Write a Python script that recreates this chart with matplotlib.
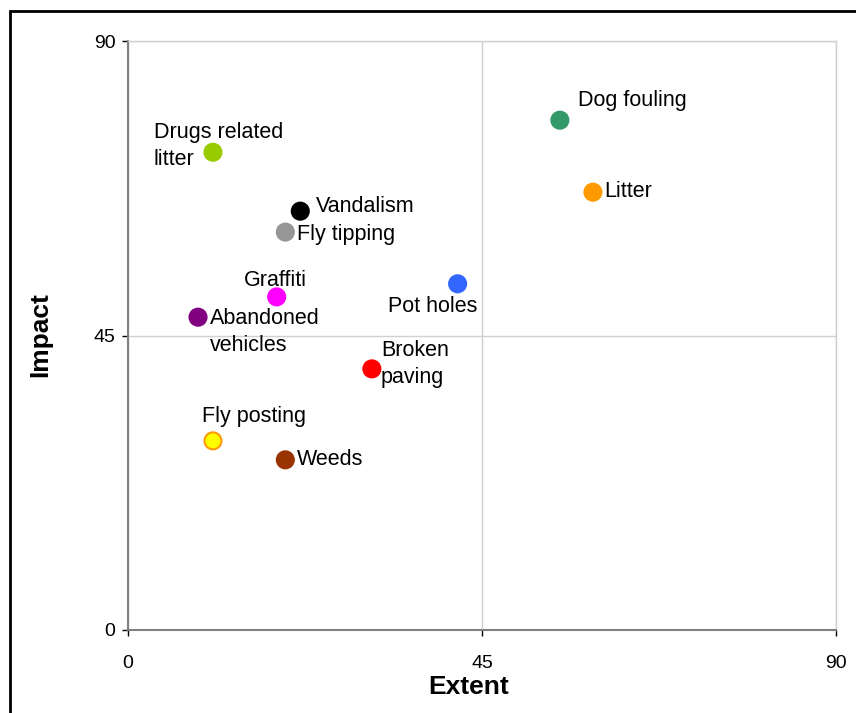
import matplotlib.pyplot as plt
from matplotlib.patches import Rectangle

plt.rcParams['font.family'] = ['Liberation Sans', 'DejaVu Sans']

# survey results: how widespread each problem is vs how much it matters
issues = ["Dog fouling", "Litter", "Drugs related\nlitter", "Vandalism", "Fly tipping",
          "Pot holes", "Graffiti", "Abandoned\nvehicles", "Broken\npaving",
          "Fly posting", "Weeds"]
extent = [54.9, 59.1, 10.8, 21.9, 20.0, 41.9, 18.9, 8.9, 31.0, 10.8, 20.0]
impact = [77.9, 66.9, 73.0, 64.0, 60.8, 52.9, 50.9, 47.8, 39.9, 28.9, 26.0]
fills = ["#339966", "#FF9900", "#99CC00", "#000000", "#969696", "#3366FF",
         "#FF00FF", "#800080", "#FF0000", "#FFFF00", "#993300"]
edges = ["#339966", "#FF9900", "#99CC00", "#000000", "#969696", "#3366FF",
         "#FF00FF", "#800080", "#FF0000", "#FF9900", "#993300"]

# label placement in pixels relative to each marker
offsets = [(18, 20), (11, 1), (-59, 6), (16, 5), (12, -2), (-70, -23),
           (-33, 16), (12, -15), (9, 5), (-11, 24), (12, 0)]

fig = plt.figure(figsize=(8.56, 7.13), dpi=100)
ax = fig.add_axes([128 / 856, 1 - 630 / 713, 708 / 856, 589 / 713])

ax.scatter(extent, impact, s=150, c=fills, edgecolors=edges, linewidths=1.5, zorder=3)
for name, x, y, off in zip(issues, extent, impact, offsets):
    ax.annotate(name, (x, y), xytext=off, textcoords='offset pixels',
                ha='left', va='center', fontsize=15.5, linespacing=1.35, zorder=4)

ax.set_xlim(0, 90)
ax.set_ylim(0, 90)
ax.set_xticks([0, 45, 90])
ax.set_yticks([0, 45, 90])
ax.tick_params(axis='both', direction='out', length=4, width=1, colors='#000000',
               labelsize=14)
ax.tick_params(axis='y', pad=5)
ax.tick_params(axis='x', pad=14)
ax.grid(True, color='#D0D0D0', linewidth=1)
ax.set_axisbelow(True)
for side in ('left', 'bottom'):
    ax.spines[side].set_color('#808080')
    ax.spines[side].set_linewidth(1.5)
for side in ('top', 'right'):
    ax.spines[side].set_color('#D0D0D0')
    ax.spines[side].set_linewidth(1)

fig.text(469 / 856, 1 - 687 / 713, "Extent", ha='center', va='center',
         fontsize=19, fontweight='bold')
fig.text(40 / 856, 1 - 335 / 713, "Impact", ha='center', va='center',
         fontsize=19, fontweight='bold', rotation=90)

# chart area border
fig.patches.append(Rectangle((10 / 856, -0.1), 1.2, 1 - 11 / 713 + 0.1,
                             transform=fig.transFigure, fill=False,
                             edgecolor='#000000', linewidth=2))

fig.savefig("out.png", dpi=100)
